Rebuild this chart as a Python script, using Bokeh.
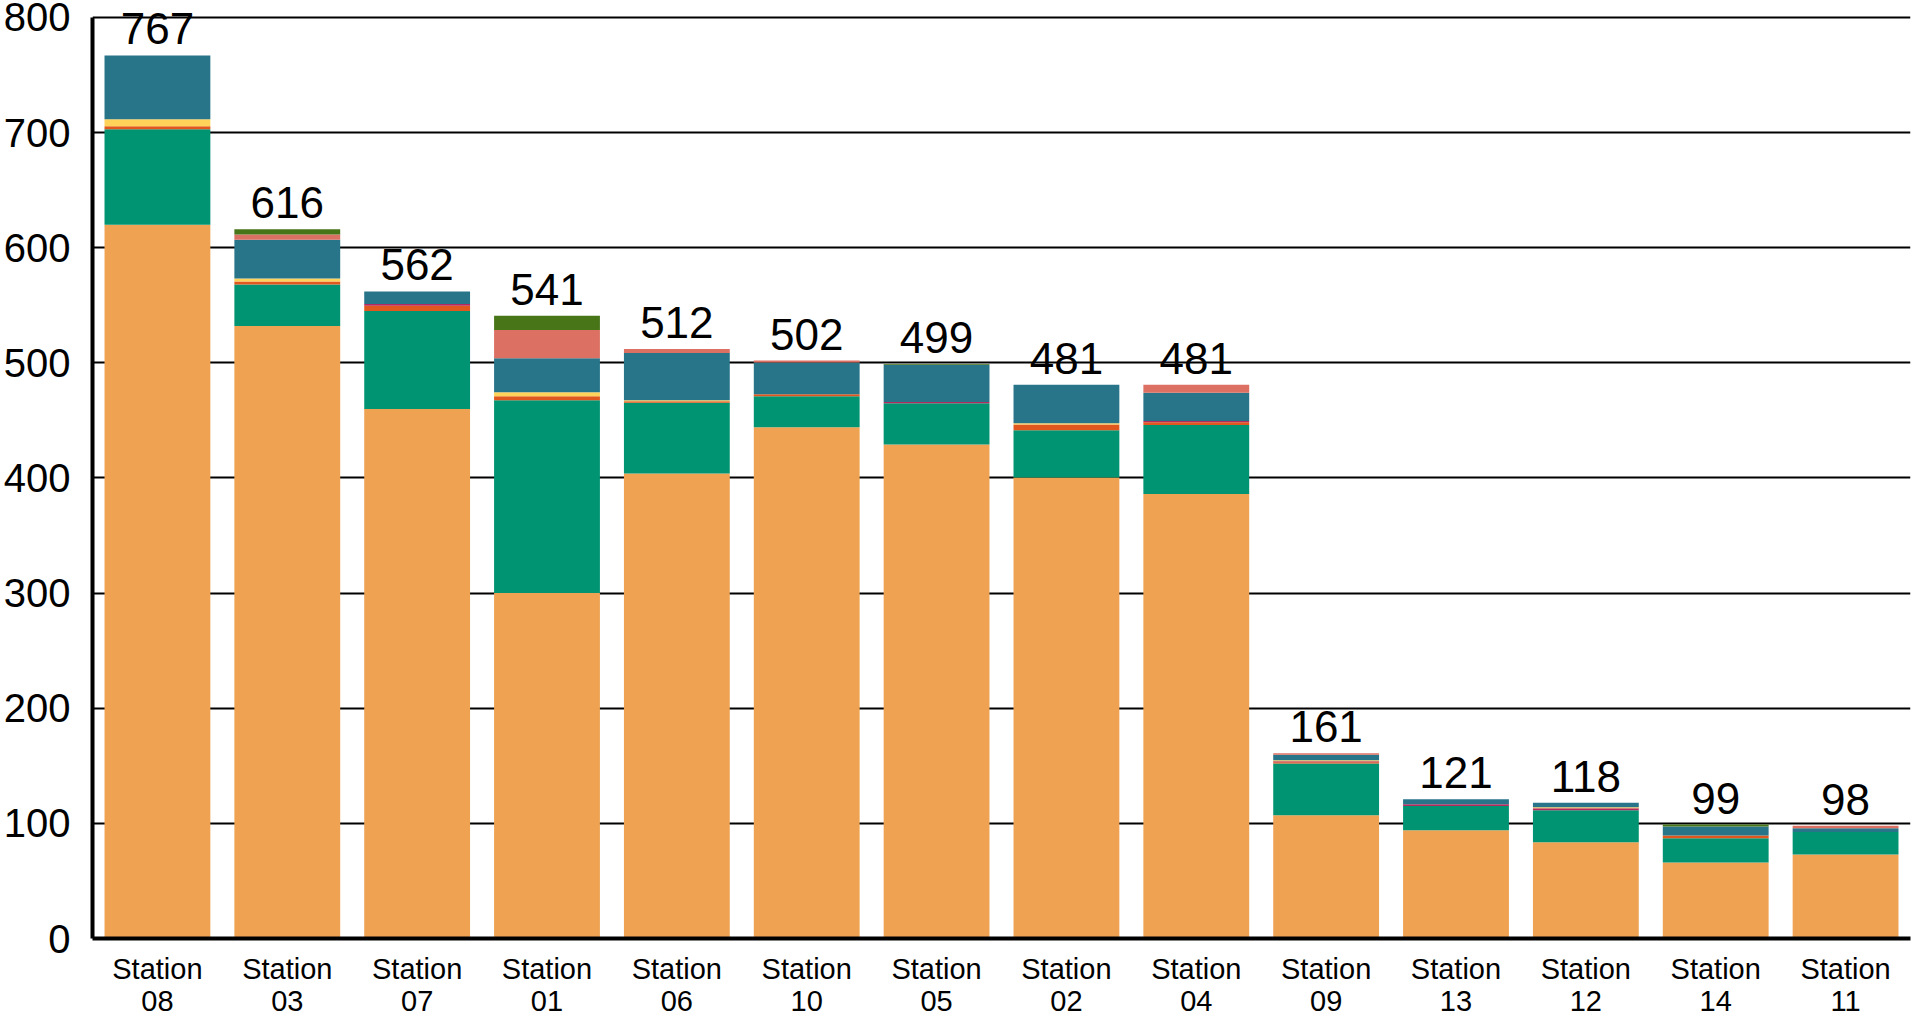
from bokeh.plotting import figure
from bokeh.models import (ColumnDataSource, Range1d, FactorRange, FixedTicker, CategoricalAxis,
                          CustomJSTickFormatter, LabelSet)
from bokeh.embed import file_html
from bokeh.resources import INLINE
from bokeh.core.properties import value

stations = ["Station 08", "Station 03", "Station 07", "Station 01", "Station 06",
            "Station 10", "Station 05", "Station 02", "Station 04", "Station 09",
            "Station 13", "Station 12", "Station 14", "Station 11"]
totals = [767, 616, 562, 541, 512, 502, 499, 481, 481, 161, 121, 118, 99, 98]

# stacked series, bottom to top
s_blue      = [0, 0, 0, 0, 0, 0, 0, 0, 1, 0, 0, 0, 0, 0]
s_orange    = [620, 532, 460, 300, 404, 444, 429, 400.5, 385, 107, 94, 83.5, 66, 73]
s_green     = [83, 36, 85, 167.5, 61.3, 27, 36, 41, 60, 45, 21, 28, 21, 19.5]
s_redorange = [2.5, 2.6, 4.6, 3.5, 1.3, 1.7, 0, 5, 2.5, 1, 0, 0, 2.5, 0]
s_crimson   = [0, 0, 1.5, 0, 0, 0, 1, 0, 1, 1, 1.5, 1.7, 0, 0]
s_yellow    = [6, 2.6, 0, 3.5, 1, 0, 0, 1, 0, 0.8, 0, 0.8, 0, 0]
s_teal      = [55.5, 33.8, 10.9, 29.5, 40.9, 27.5, 32.3, 33.5, 24.5, 4.8, 4.5, 4, 7.8, 3.3]
s_salmon    = [0, 4.5, 0, 24.5, 3.5, 1.8, 0, 0, 7, 1.4, 0, 0, 0, 2.2]
s_dkgreen   = [0, 4.5, 0, 12.5, 0, 0, 0.7, 0, 0, 0, 0, 0, 1.7, 0]

series_names = ["blue", "orange", "green", "redorange", "crimson", "yellow", "teal", "salmon", "dkgreen"]
series_vals = [s_blue, s_orange, s_green, s_redorange, s_crimson, s_yellow, s_teal, s_salmon, s_dkgreen]
series_colors = ["#3572C6", "#EFA352", "#009473", "#E0581E", "#B32A5C", "#FFD35A", "#28758A", "#DB7063", "#477518"]

y_ticks = [0, 100, 200, 300, 400, 500, 600, 700, 800]

data = {"station": stations, "total": totals, "label": [str(t) for t in totals]}
for n, v in zip(series_names, series_vals):
    data[n] = v
source = ColumnDataSource(data)

# a little headroom above the 800 line so that the top value label is not clipped
p = figure(x_range=FactorRange(*stations, range_padding=0),
           y_range=Range1d(0, 813),
           width=1914, height=1013,
           output_backend="svg", toolbar_location=None,
           min_border_top=2, min_border_bottom=3, min_border_left=10, min_border_right=4)

p.vbar_stack(series_names, x="station", width=0.815, color=series_colors,
             line_color=None, source=source)

labels = LabelSet(x="station", y="total", text="label", source=source,
                  text_align="center", text_baseline="alphabetic", y_offset=11,
                  text_font=value("Liberation Sans"), text_font_size=value("44px"),
                  text_color="black", level="overlay")
p.add_layout(labels)

p.yaxis.ticker = FixedTicker(ticks=y_ticks)
p.yaxis.bounds = (y_ticks[0], y_ticks[-1])
p.yaxis.major_label_text_font = "Liberation Sans"
p.yaxis.major_label_text_font_size = "40px"
p.yaxis.major_label_text_color = "black"
p.yaxis.major_tick_out = 0
p.yaxis.major_tick_in = 0
p.yaxis.minor_tick_out = 0
p.yaxis.minor_tick_in = 0
p.yaxis.major_label_standoff = 22
p.yaxis.axis_line_width = 4
p.yaxis.axis_line_color = "black"

# first line of the x labels ("Station")
p.xaxis.formatter = CustomJSTickFormatter(code="return String(tick).split(' ')[0];")
p.xaxis.major_label_text_font = "Liberation Sans"
p.xaxis.major_label_text_font_size = "29px"
p.xaxis.major_label_text_color = "black"
p.xaxis.major_tick_out = 0
p.xaxis.major_tick_in = 0
p.xaxis.major_label_standoff = 14
p.xaxis.axis_line_width = 4
p.xaxis.axis_line_color = "black"

# second line of the x labels (station number)
ax2 = CategoricalAxis(formatter=CustomJSTickFormatter(code="return String(tick).split(' ')[1];"))
ax2.major_label_text_font = "Liberation Sans"
ax2.major_label_text_font_size = "29px"
ax2.major_label_text_color = "black"
ax2.major_tick_out = 0
ax2.major_tick_in = 0
ax2.major_label_standoff = 3
ax2.axis_line_color = None
p.add_layout(ax2, "below")

p.xgrid.grid_line_color = None
p.ygrid.grid_line_color = "black"
p.ygrid.grid_line_width = 2
p.outline_line_color = None
p.background_fill_color = "white"
p.border_fill_color = "white"

open("out.html", "w").write(file_html(p, INLINE))
